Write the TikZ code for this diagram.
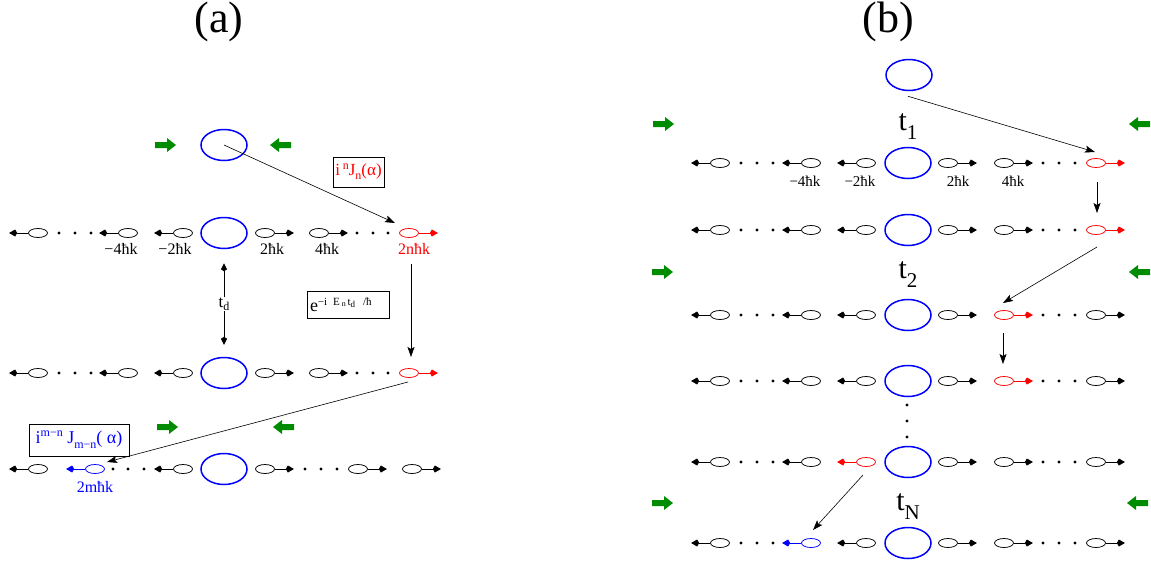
\documentclass[tikz,border=0pt]{standalone}
\usepackage{fontspec}
\setmainfont{Liberation Serif}
\usetikzlibrary{arrows.meta,shapes.geometric}
\definecolor{gr}{RGB}{0,140,0}
\tikzset{
  sell/.style={ellipse,minimum width=19pt,minimum height=9pt,inner sep=0pt,line width=0.75pt},
  bigell/.style={ellipse,draw=blue,line width=1.5pt,minimum width=46pt,minimum height=31pt,inner sep=0pt},
  sarr/.style={line width=0.75pt,-{Kite[length=8pt,width=7pt]}},
  conn/.style={line width=0.6pt,-{Stealth[length=10pt,width=7pt,inset=2pt]}},
  lab/.style={font=\fontsize{16}{16}\selectfont,inner sep=0pt},
  blab/.style={font=\fontsize{15}{15}\selectfont,inner sep=0pt},
  boxlab/.style={draw=black,line width=0.6pt,inner sep=0pt,fill=white},
  tlab/.style={font=\fontsize{30}{30}\selectfont,inner sep=0pt},
  panlab/.style={font=\fontsize{44}{44}\selectfont,inner sep=0pt},
}
\newcommand\LE[4]{\node[sell,draw=#4] (#1) at (#2,#3) {}; \draw[sarr,#4] (#1.west) -- ++(-19,0);}
\newcommand\RE[4]{\node[sell,draw=#4] (#1) at (#2,#3) {}; \draw[sarr,#4] (#1.east) -- ++(19,0);}
\newcommand\DT[2]{\fill (#1,#2) circle (1.7pt);}
\newcommand\GR[2]{\fill[gr] (#1,#2-3) -- (#1+12,#2-3) -- (#1+12,#2-7) -- (#1+21,#2) -- (#1+12,#2+7) -- (#1+12,#2+3) -- (#1,#2+3) -- cycle;}
\newcommand\GL[2]{\fill[gr] (#1,#2) -- (#1+9,#2-7) -- (#1+9,#2-3) -- (#1+21,#2-3) -- (#1+21,#2+3) -- (#1+9,#2+3) -- (#1+9,#2+7) -- cycle;}
\newcommand\SUP[3]{\raisebox{#1}{\fontsize{#2}{#2}\selectfont #3}}
\newcommand\arow[2]{%
  \LE{#1-ln}{38}{#2}{black}
  \DT{59}{#2}\DT{75}{#2}\DT{91}{#2}
  \LE{#1-l4}{128}{#2}{black}
  \LE{#1-l2}{183}{#2}{black}
  \node[bigell] (#1-c) at (224,#2) {};
  \RE{#1-r2}{265}{#2}{black}
  \RE{#1-r4}{319}{#2}{black}
  \DT{357}{#2}\DT{373}{#2}\DT{388}{#2}
  \RE{#1-rn}{409}{#2}{red}}
\newcommand\brow[8]{%
  \LE{#1-ln}{720}{#2}{#3}
  \DT{741}{#2}\DT{757}{#2}\DT{773}{#2}
  \LE{#1-l4}{811}{#2}{#4}
  \LE{#1-l2}{866}{#2}{#5}
  \node[bigell] (#1-c) at (908,#2) {};
  \RE{#1-r2}{948}{#2}{#6}
  \RE{#1-r4}{1004}{#2}{#7}
  \DT{1043}{#2}\DT{1059}{#2}\DT{1075}{#2}
  \RE{#1-rn}{1096}{#2}{#8}}
\begin{document}
\begin{tikzpicture}[x=1pt,y=-1pt]
\path[use as bounding box] (0,0) rectangle (1151,563);
% ---------------- panel (a)
\node[panlab] (pa) at (219,22) {(a)};
\node[bigell] (a0) at (224,145) {};
\GR{155}{145}\GL{270}{145}
\arow{a1}{233}
\node[lab] (la1) at (121,249) {−4ħk};
\node[lab] (la2) at (175,249) {−2ħk};
\node[lab] (la3) at (272,249) {2ħk};
\node[lab] (la4) at (327,249) {4ħk};
\node[lab,text=red] (la5) at (414,249) {2nħk};
\arow{a2}{373}
% row 3 (a)
\LE{a3-ln}{38}{469}{black}
\LE{a3-b}{95}{469}{blue}
\DT{113}{469}\DT{128}{469}\DT{144}{469}
\LE{a3-l2}{183}{469}{black}
\node[bigell] (a3-c) at (224,469) {};
\RE{a3-r2}{265}{469}{black}
\DT{305}{469}\DT{321}{469}\DT{337}{469}
\RE{a3-r4}{358}{469}{black}
\RE{a3-rn}{412}{469}{black}
\node[lab,text=blue] (la6) at (95,487) {2mħk};
\GR{157}{427}\GL{273}{427}
% boxes
\node[boxlab,text=red,minimum width=51pt,minimum height=30pt,font=\fontsize{17}{17}\selectfont] (k1) at (358.5,172)
  {i\,\SUP{6pt}{12}{n}J\SUP{-4pt}{12}{n}(α)};
\node[boxlab,text width=76pt,align=left,inner xsep=3pt,minimum height=27pt,font=\fontsize{18}{18}\selectfont] (k2) at (348,304.5)
  {e\SUP{6pt}{11}{−i E\,\SUP{-1pt}{8}{n}\,t\SUP{-2pt}{9}{d}\, /ħ}};
\node[boxlab,text=blue,minimum width=100pt,minimum height=32pt,font=\fontsize{18}{18}\selectfont] (k3) at (79,440)
  {i\SUP{7pt}{12}{m−n} J\SUP{-5pt}{12}{m−n}( α)};
% connectors (a)
\draw[conn] (a0.center) -- ([xshift=-14pt,yshift=10pt]a1-rn.center);
\draw[conn] ([xshift=2pt,yshift=-31pt]a1-rn.center) -- ([xshift=2pt,yshift=16pt]a2-rn.center);
\draw[conn] ([xshift=-1pt,yshift=-9pt]a2-rn.center) -- ([xshift=12pt,yshift=7pt]a3-b.center);
\draw[line width=0.6pt,{Kite[length=8pt,width=6pt]}-{Kite[length=8pt,width=6pt]}] ([yshift=-14pt]a1-c.south) -- ([yshift=12pt]a2-c.north)
  node[midway,fill=white,inner sep=1pt,font=\fontsize{17}{17}\selectfont] (td) {t\SUP{-3pt}{12}{d}};
% ---------------- panel (b)
\node[panlab] (pb) at (888,22) {(b)};
\node[bigell] (b0) at (909,75) {};
\node[tlab] (t1) at (908,127) {t\SUP{-9pt}{21}{1}};
\GR{653}{124}\GL{1129}{124}
\brow{b1}{163}{black}{black}{black}{black}{black}{red}
\node[blab] (lb1) at (805,181) {−4ħk};
\node[blab] (lb2) at (860,181) {−2ħk};
\node[blab] (lb3) at (958,181) {2ħk};
\node[blab] (lb4) at (1013,181) {4ħk};
\brow{b2}{230}{black}{black}{black}{black}{black}{red}
\node[tlab] (t2) at (908,275) {t\SUP{-9pt}{21}{2}};
\GR{652}{272}\GL{1129}{272}
\brow{b3}{315}{black}{black}{black}{black}{red}{black}
\brow{b4}{381}{black}{black}{black}{black}{red}{black}
\DT{907}{405}\DT{907}{421}\DT{907}{437}
\brow{b5}{462}{black}{black}{red}{black}{black}{black}
\node[tlab] (tN) at (908,507) {t\SUP{-9pt}{21}{N}};
\GR{652}{503}\GL{1127}{503}
\brow{b6}{543}{black}{blue}{black}{black}{black}{black}
% connectors (b)
\draw[conn] ([xshift=-1pt,yshift=-5pt]b0.south) -- ([xshift=-1pt,yshift=11pt]b1-rn.center);
\draw[conn] ([xshift=1pt,yshift=-19pt]b1-rn.center) -- ([xshift=1pt,yshift=17pt]b2-rn.center);
\draw[conn] ([xshift=1pt,yshift=-17pt]b2-rn.center) -- ([xshift=-1pt,yshift=12pt]b3-r4.center);
\draw[conn] ([xshift=-1pt,yshift=-18pt]b3-r4.center) -- ([xshift=-1pt,yshift=17pt]b4-r4.center);
\draw[conn] ([xshift=-3pt,yshift=-13pt]b5-l2.center) -- ([xshift=2pt,yshift=13pt]b6-l4.center);
\end{tikzpicture}
\end{document}
